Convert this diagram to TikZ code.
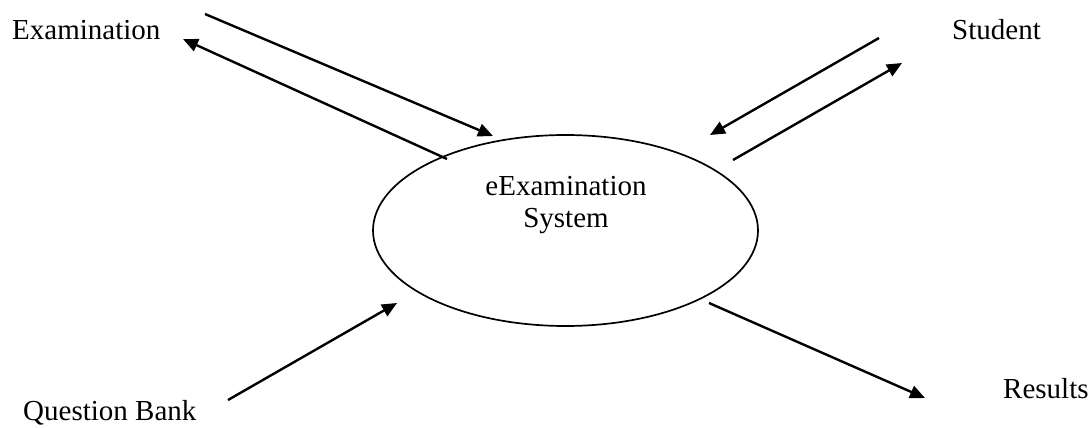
\documentclass[tikz,border=0pt]{standalone}
\usepackage{fontspec}
\setmainfont{Liberation Serif}
\usetikzlibrary{arrows.meta,shapes.geometric}
\begin{document}
\begin{tikzpicture}[x=1pt,y=-1pt,
  lbl/.style={font=\fontsize{29}{33}\selectfont, inner sep=0pt, anchor=base west},
  flow/.style={line width=2.4pt, -{Triangle[length=15pt,width=13pt]}},
  proc/.style={draw, ellipse, line width=1.7pt, minimum width=385pt, minimum height=191pt, inner sep=0pt}]
\useasboundingbox (0,0) rectangle (1092,428);
\fill[white] (0,0) rectangle (1092,428);
% labels
\node[lbl] (exam) at (12,40) {Examination};
\node[lbl] (stud) at (952,40) {Student};
\node[lbl] (qb) at (23,420) {Question Bank};
\node[lbl] (res) at (1003,398) {Results};
% process
\node[proc] (sys) at (565.5,230.5) {};
\node[font=\fontsize{29}{32}\selectfont, align=center, inner sep=0pt] (systxt) at (566,205) {eExamination\\System};
% connector ends
\coordinate (a1) at (205,14);   \coordinate (a2) at (493,136);
\coordinate (b1) at (447,159);  \coordinate (b2) at (183,39);
\coordinate (c1) at (879,38);   \coordinate (c2) at (710,135);
\coordinate (d1) at (733,160);  \coordinate (d2) at (902,63);
\coordinate (e1) at (228,400);  \coordinate (e2) at (397,303);
\coordinate (f1) at (709,303);  \coordinate (f2) at (925,398);
\draw[flow] (a1) -- (a2);
\draw[flow] (b1) -- (b2);
\draw[flow] (c1) -- (c2);
\draw[flow] (d1) -- (d2);
\draw[flow] (e1) -- (e2);
\draw[flow] (f1) -- (f2);
\end{tikzpicture}
\end{document}
